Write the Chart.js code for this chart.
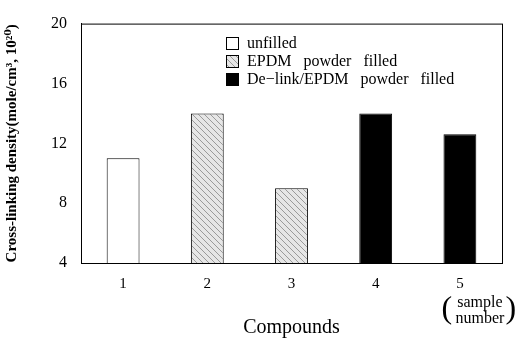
<!DOCTYPE html>
<html>
<head>
<meta charset="utf-8">
<script src="https://cdn.jsdelivr.net/npm/chart.js@4.4.1/dist/chart.umd.min.js"></script>
<style>
  html, body { margin: 0; padding: 0; background: #fff; }
  #wrap { width: 519px; height: 345px; }
</style>
</head>
<body>
<div id="wrap"><canvas id="myChart"></canvas></div>
<script>
// data
const compounds = ["1", "2", "3", "4", "5"];
const density = [11, 14, 9, 14, 12.6];
const fillType = [0, 1, 1, 2, 2];
const seriesNames = ["unfilled", "EPDM   powder   filled", "De\u2212link/EPDM   powder   filled"];
const yTicks = [4, 8, 12, 16, 20];

const serif = "'Liberation Serif', 'DejaVu Serif', serif";

// diagonal hatch for the EPDM filled bars
function makeHatch() {
  const c = document.createElement("canvas");
  c.width = 6; c.height = 6;
  const g = c.getContext("2d");
  g.fillStyle = "#e6e6e6";
  g.fillRect(0, 0, 6, 6);
  g.strokeStyle = "#9a9a9a";
  g.lineWidth = 1;
  g.beginPath();
  g.moveTo(0, 0); g.lineTo(6, 6);
  g.moveTo(-3, 3); g.lineTo(3, 9);
  g.moveTo(3, -3); g.lineTo(9, 3);
  g.stroke();
  return g.createPattern(c, "repeat");
}
const hatch = makeHatch();
const fills = ["#ffffff", hatch, "#000000"];

const extras = {
  id: "extras",
  afterDraw(chart) {
    const { ctx, chartArea: a } = chart;
    ctx.save();
    // frame
    ctx.strokeStyle = "#000";
    ctx.lineWidth = 1;
    ctx.strokeRect(a.left + 0.5, a.top + 0.5, a.right - a.left, a.bottom - a.top);

    // legend inside the plot
    ctx.font = "16px " + serif;
    ctx.textBaseline = "middle";
    ctx.textAlign = "left";
    const lx = 226, ly = 43, step = 18;
    seriesNames.forEach((name, i) => {
      const y = ly + i * step;
      ctx.fillStyle = fills[i];
      ctx.fillRect(lx, y - 6, 13, 13);
      ctx.strokeStyle = "#000";
      ctx.strokeRect(lx + 0.5, y - 5.5, 12, 12);
      ctx.fillStyle = "#000";
      ctx.fillText(name, lx + 21, y + 1);
    });

    // "(sample number)" under the last tick
    const xs = chart.scales.x;
    const cx = xs.getPixelForValue(4);
    ctx.font = "16px " + serif;
    ctx.textAlign = "center";
    ctx.fillText("sample", cx + 20, 303);
    ctx.fillText("number", cx + 20, 319);
    ctx.font = "32px " + serif;
    ctx.fillText("(", cx - 13, 310);
    ctx.fillText(")", cx + 51, 310);
    ctx.restore();
  }
};

new Chart(document.getElementById("myChart"), {
  type: "bar",
  data: {
    labels: compounds,
    datasets: [{
      label: "Cross-linking density",
      data: density,
      backgroundColor: fillType.map(t => fills[t]),
      borderColor: "#000",
      borderWidth: 1,
      borderSkipped: "bottom",
      categoryPercentage: 1,
      barPercentage: 0.39
    }]
  },
  options: {
    responsive: true,
    maintainAspectRatio: false,
    animation: false,
    layout: { padding: { top: 19, right: 17, left: 0, bottom: 0 } },
    plugins: { legend: { display: false }, tooltip: { enabled: false } },
    scales: {
      x: {
        grid: { display: false, drawTicks: false },
        border: { display: true, color: "#000" },
        ticks: { color: "#000", font: { family: serif, size: 15 }, padding: 12 },
        title: { display: true, text: "Compounds", color: "#000",
                 font: { family: serif, size: 20 }, padding: { top: 0, bottom: 5 } },
        afterFit: s => { s.height = 82; }
      },
      y: {
        min: 4, max: 20,
        afterBuildTicks: s => { s.ticks = yTicks.map(v => ({ value: v })); },
        grid: { display: false, drawTicks: false },
        border: { display: true, color: "#000" },
        ticks: { color: "#000", font: { family: serif, size: 16 }, padding: 14 },
        title: { display: true, text: "Cross-linking density(mole/cm\u00B3, 10\u00B2\u2070)", color: "#000",
                 font: { family: serif, size: 15, weight: "bold" }, padding: { top: 3, bottom: 0 } },
        afterFit: s => { s.width = 81; }
      }
    }
  },
  plugins: [extras]
});
</script>
</body>
</html>
